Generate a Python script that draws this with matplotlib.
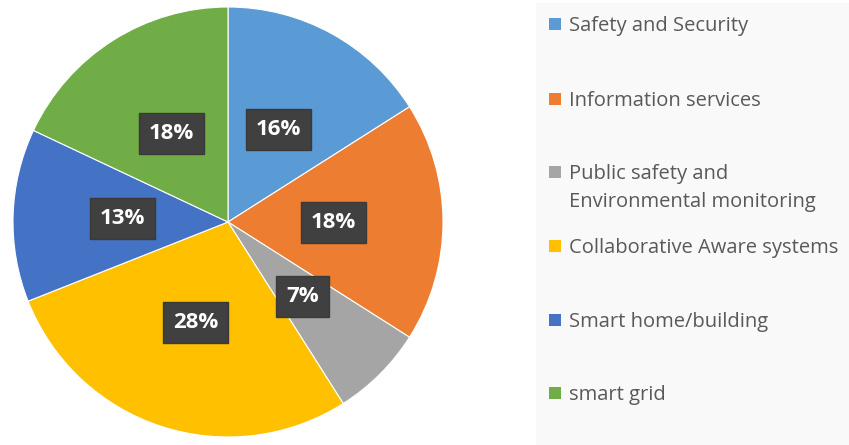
import matplotlib.pyplot as plt
from matplotlib.patches import Rectangle

# data
labels = ["Safety and Security", "Information services",
          "Public safety and\nEnvironmental monitoring",
          "Collaborative Aware systems", "Smart home/building", "smart grid"]
shares = [16, 18, 7, 28, 13, 18]
colors = ["#5B9BD5", "#ED7D31", "#A5A5A5", "#FFC000", "#4472C4", "#70AD47"]

plt.rcParams['font.family'] = ['Open Sans', 'DejaVu Sans']

fig = plt.figure(figsize=(8.49, 4.45), dpi=100)
fig.patch.set_facecolor("white")

# legend background panel
fig.patches.append(Rectangle((536 / 849, 0), 1 - 536 / 849, 1 - 3 / 445,
                             transform=fig.transFigure, facecolor="#f9f9f9",
                             edgecolor="none", zorder=0))

ax = fig.add_axes([13 / 849, 8 / 445, 430 / 849, 430 / 445])
wedges, texts, autotexts = ax.pie(
    shares, colors=colors, startangle=90, counterclock=False,
    autopct=lambda p: f"{p:.0f}%", pctdistance=0.49,
    wedgeprops=dict(linewidth=0.8, edgecolor="white"))
for t in autotexts:
    t.set_color("white")
    t.set_fontsize(16)
    t.set_fontweight("bold")
    t.set_bbox(dict(boxstyle="square,pad=0.45", facecolor="#404040",
                    edgecolor="#3a3a3a"))
ax.set_xlim(-1, 1)
ax.set_ylim(-1, 1)
ax.set_aspect("equal")

# manual legend
y_pos = [24, 99, 172, 246, 320, 393]
for lab, col, y in zip(labels, colors, y_pos):
    yf = 1 - y / 445
    fig.patches.append(Rectangle((549 / 849, yf - 6 / 445), 12 / 849, 12 / 445,
                                 transform=fig.transFigure, facecolor=col,
                                 edgecolor="none"))
    fig.text(569 / 849, yf + 8 / 445, lab, fontsize=14.5, color="#595959",
             va="top", ha="left", linespacing=1.55)

fig.savefig("out.png", dpi=100)
